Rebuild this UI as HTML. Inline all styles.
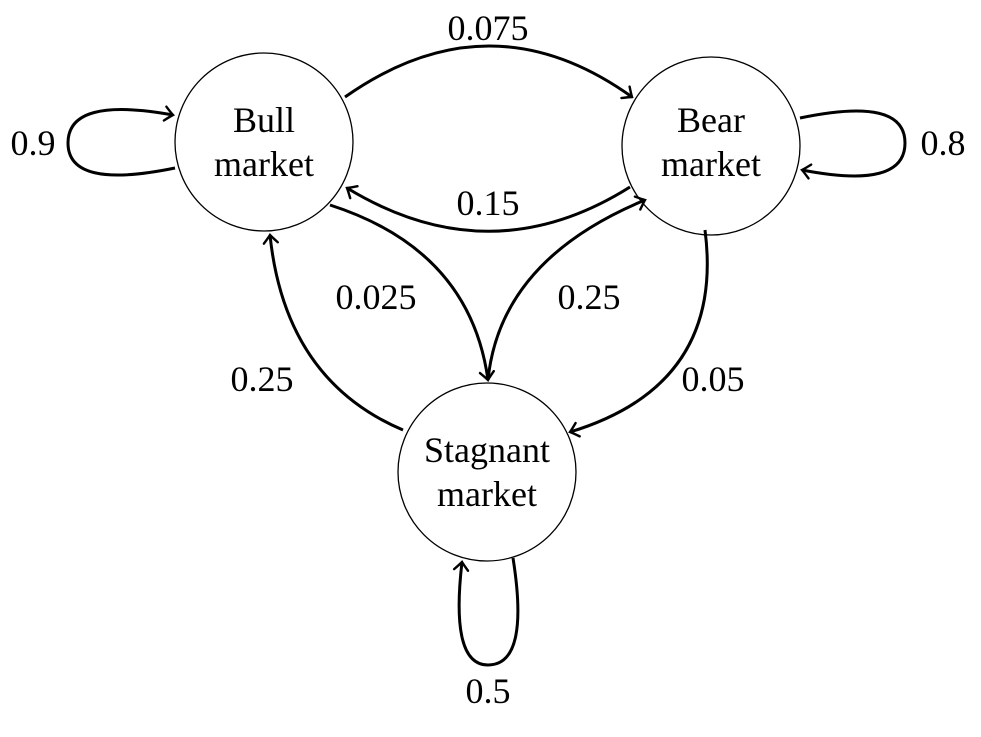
<!DOCTYPE html>
<html><head><style>
html,body{margin:0;padding:0;background:#fff;}
svg{display:block;}
text{font-family:"Liberation Serif",serif;font-size:36px;fill:#000;text-anchor:middle;}
</style></head><body>
<svg width="981" height="737" viewBox="0 0 981 737" xmlns="http://www.w3.org/2000/svg">
<defs>
<marker id="a" markerWidth="20" markerHeight="20" refX="10" refY="10" orient="auto" markerUnits="userSpaceOnUse">
<path d="M2,3 Q8,8.5 10,10 Q8,11.5 2,17" fill="none" stroke="#000" stroke-width="2.4" stroke-linecap="round"/>
</marker>
</defs>
<g fill="none" stroke="#000" stroke-width="1.3">
<circle cx="264" cy="142" r="89"/>
<circle cx="711" cy="146" r="89"/>
<circle cx="487" cy="472" r="89"/>
</g>
<g fill="none" stroke="#000" stroke-width="3" marker-end="url(#a)">
<path d="M345,97 Q490,-5 632,97"/>
<path d="M630,187 Q490,275 347,188"/>
<path d="M175,168 Q68,190 68,143 Q68,96 173,115"/>
<path d="M800,118 Q905,96 905,143 Q905,190 802,170"/>
<path d="M330,205 Q470,250 488,380"/>
<path d="M488,380 Q500,260 645,200"/>
<path d="M403,430 Q285,380 270,235"/>
<path d="M705,230 Q725,385 570,432"/>
<path d="M513,558 Q530,665 488,665 Q450,665 462,562"/>
</g>
<text x="488" y="40">0.075</text>
<text x="33" y="155">0.9</text>
<text x="943" y="155">0.8</text>
<text x="488" y="215">0.15</text>
<text x="376" y="309">0.025</text>
<text x="589" y="309">0.25</text>
<text x="262" y="391">0.25</text>
<text x="713" y="391">0.05</text>
<text x="488" y="703">0.5</text>
<text x="264" y="132">Bull</text>
<text x="264" y="176">market</text>
<text x="711" y="132">Bear</text>
<text x="711" y="176">market</text>
<text x="487" y="462">Stagnant</text>
<text x="487" y="506">market</text>
</svg>
</body></html>
